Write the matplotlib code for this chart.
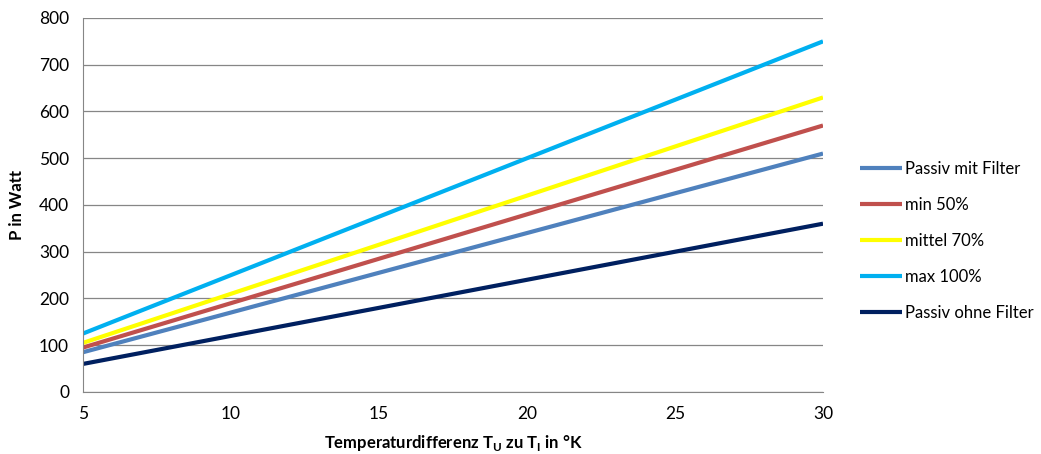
import matplotlib.pyplot as plt

plt.rcParams['font.family'] = ['Lato', 'DejaVu Sans']

temp_diff = [5, 10, 15, 20, 25, 30]
passiv_mit_filter = [85, 170, 255, 340, 425, 510]
min_50 = [95, 190, 285, 380, 475, 570]
mittel_70 = [105, 210, 315, 420, 525, 630]
max_100 = [125, 250, 375, 500, 625, 750]
passiv_ohne_filter = [60, 120, 180, 240, 300, 360]

series = [
    ('Passiv mit Filter', passiv_mit_filter, '#4F81BD'),
    ('min 50%', min_50, '#C0504D'),
    ('mittel 70%', mittel_70, '#FFFF00'),
    ('max 100%', max_100, '#00B0F0'),
    ('Passiv ohne Filter', passiv_ohne_filter, '#002060'),
]

fig = plt.figure(figsize=(10.41, 4.54), dpi=100)
ax = fig.add_axes([0.0797, 0.1366, 0.7109, 0.8238])

for label, vals, col in series:
    ax.plot(temp_diff, vals, color=col, lw=3, label=label, solid_capstyle='butt')

ax.set_xlim(5, 30)
ax.set_ylim(0, 800)
ax.set_xticks([5, 10, 15, 20, 25, 30])
ax.set_yticks(range(0, 801, 100))
ax.grid(axis='y', color='#868686', lw=0.9)
ax.set_axisbelow(True)
for s in ['top', 'right']:
    ax.spines[s].set_visible(False)
for s in ['left', 'bottom']:
    ax.spines[s].set_color('#868686')
ax.tick_params(length=0, labelsize=12.5, pad=10)

ax.set_ylabel('P in Watt', fontsize=12, fontweight='bold', labelpad=10)
ax.set_xlabel(r'Temperaturdifferenz T$_\mathregular{U}$ zu T$_\mathregular{I}$ in °K',
              fontsize=12, fontweight='bold', labelpad=8)

ax.legend(loc='center left', bbox_to_anchor=(1.03, 0.405), frameon=False,
          fontsize=12, handlelength=2.5, labelspacing=1.2, handletextpad=0.2)

fig.savefig('out.png', dpi=100)
